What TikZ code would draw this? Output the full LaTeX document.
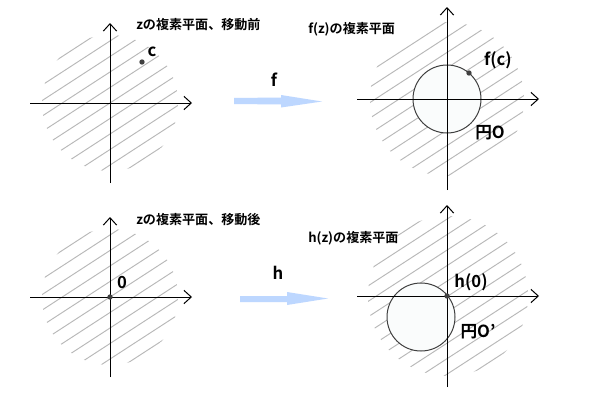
\documentclass[tikz,border=0pt]{standalone}
\usepackage{fontspec}
\setmainfont{Noto Sans CJK JP}[BoldFont={Noto Sans CJK JP Bold}]
\usetikzlibrary{arrows.meta}
\definecolor{hatchgray}{HTML}{B8B8B8}
\definecolor{arrowblue}{HTML}{BDD7FF}
\definecolor{dotgray}{HTML}{404040}
\definecolor{diskfill}{HTML}{FAFCFC}
\tikzset{
  hatch/.style={draw=hatchgray, line width=0.7pt},
  axis/.style={draw=black, line width=0.75pt, -{Straight Barb[length=5.5pt,width=10pt,line width=0.75pt]}},
  disk/.style={draw=dotgray, line width=0.75pt, fill=diskfill},
  dot/.style={circle, fill=dotgray, inner sep=0pt, minimum size=4pt},
  ptitle/.style={font=\fontsize{9.8pt}{11pt}\selectfont\bfseries, anchor=west, inner sep=0pt},
  plabel/.style={font=\fontsize{12.5pt}{14pt}\selectfont\bfseries, inner sep=0pt},
  maparrow/.style={fill=arrowblue, draw=none}
}
\newcommand{\hatchdisk}[3]{% center x, center y, radius
  \begin{scope}
    \clip (#1,#2) circle (#3);
    \foreach \s in {-104,-91,...,104}
      \draw[hatch] ({#1+0.545*\s-0.839*110},{#2+0.839*\s+0.545*110}) -- ({#1+0.545*\s+0.839*110},{#2+0.839*\s-0.545*110});
  \end{scope}}
\begin{document}
\begin{tikzpicture}[x=0.75pt,y=-0.75pt]
\useasboundingbox (0,0) rectangle (600,400);
\fill[white] (0,0) rectangle (600,400);

% ---------- top left ----------
\hatchdisk{110}{103}{68}
\coordinate (tlL) at (30,103); \coordinate (tlR) at (192,103);
\coordinate (tlB) at (110,183); \coordinate (tlT) at (110,23);
\draw[axis] (tlL) -- (tlR);
\draw[axis] (tlB) -- (tlT);
\node[dot] (c) at (142,62) {};
\node[plabel] (clab) at (152,52) {c};
\node[ptitle] (t1) at (136,25) {zの複素平面、移動前};

% ---------- top right ----------
\hatchdisk{447}{99}{77}
\draw[disk] (447,99) circle (34);
\coordinate (trL) at (357,99); \coordinate (trR) at (539,99);
\coordinate (trB) at (447,190); \coordinate (trT) at (447,7);
\draw[axis] (trL) -- (trR);
\draw[axis] (trB) -- (trT);
\node[dot] (fc) at (469,73) {};
\node[plabel] (fclab) at (498,60) {f(c)};
\node[plabel] (Olab) at (490,133) {円O};
\node[ptitle] (t2) at (308,29) {f(z)の複素平面};

% ---------- arrow f ----------
\fill[maparrow] (234,98) -- (281,97.5) -- (281,95) -- (322,101.5) -- (281,107.5) -- (281,104.5) -- (234,104) -- cycle;
\node[plabel] (flab) at (274,80) {f};

% ---------- bottom left ----------
\hatchdisk{110}{297}{68}
\coordinate (blL) at (30,297); \coordinate (blR) at (192,297);
\coordinate (blB) at (110,377); \coordinate (blT) at (110,217);
\draw[axis] (blL) -- (blR);
\draw[axis] (blB) -- (blT);
\node[dot] (zero) at (110,297) {};
\node[plabel] (zlab) at (122,282) {0};
\node[ptitle] (t3) at (136,220) {zの複素平面、移動後};

% ---------- bottom right ----------
\hatchdisk{448}{296}{80}
\draw[disk] (421,317) circle (34);
\coordinate (brL) at (357,296); \coordinate (brR) at (539,296);
\coordinate (brB) at (447,387); \coordinate (brT) at (447,205);
\draw[axis] (brL) -- (brR);
\draw[axis] (brB) -- (brT);
\node[dot] (h0) at (447,296) {};
\node[plabel] (h0lab) at (471,282) {h(0)};
\node[plabel] (O2lab) at (478,332) {円O’};
\node[ptitle] (t4) at (308,238) {h(z)の複素平面};

% ---------- arrow h ----------
\fill[maparrow] (240,296) -- (287,296) -- (287,292) -- (328,298.5) -- (287,305) -- (287,302) -- (240,302) -- cycle;
\node[plabel] (hlab) at (278,273) {h};
\end{tikzpicture}
\end{document}
